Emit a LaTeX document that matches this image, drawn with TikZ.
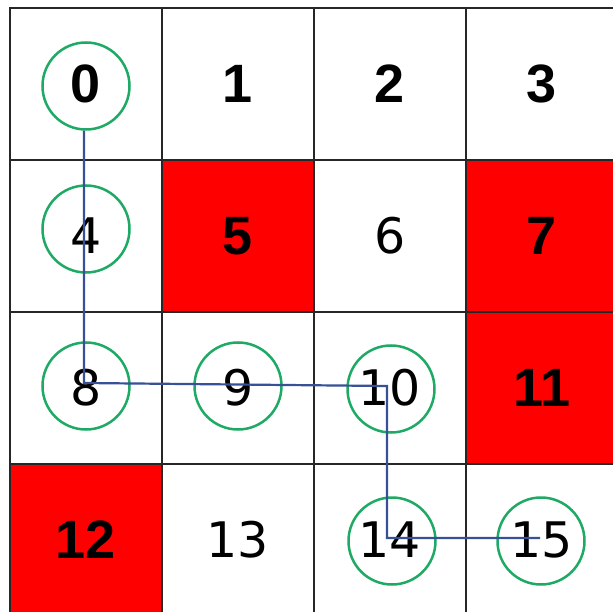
\documentclass[tikz,border=0pt]{standalone}
\usepackage{fontspec}
\setmainfont{DejaVu Sans}
\newfontfamily\boldnum{Liberation Sans}
\definecolor{cellred}{RGB}{255,0,0}
\definecolor{ringgreen}{RGB}{30,170,100}
\definecolor{pathblue}{RGB}{55,80,150}
\tikzset{
  cellbox/.style={draw=black!85, line width=2.6pt, minimum width=152pt, minimum height=152pt, inner sep=0pt, anchor=center, font=\fontsize{49pt}{51pt}\selectfont},
  openbox/.style={cellbox, fill=white},
  wallbox/.style={cellbox, fill=cellred},
  strong/.style={font=\fontsize{54pt}{56pt}\selectfont\boldnum\bfseries},
  ring/.style={circle, draw=ringgreen, line width=2.5pt, minimum size=87pt, inner sep=0pt},
  route/.style={draw=pathblue, line width=2.2pt}
}
\begin{document}
\begin{tikzpicture}[x=1pt,y=-1pt]
\useasboundingbox (0,0) rectangle (613,612);
\fill[white] (0,0) rectangle (613,612);
% row 0
\node[openbox,strong] (c0) at (86,84) {0};
\node[openbox,strong] (c1) at (238,84) {1};
\node[openbox,strong] (c2) at (390,84) {2};
\node[openbox,strong] (c3) at (542,84) {3};
% row 1
\node[openbox] (c4) at (86,236) {4};
\node[wallbox,strong] (c5) at (238,236) {5};
\node[openbox] (c6) at (390,236) {6};
\node[wallbox,strong] (c7) at (542,236) {7};
% row 2
\node[openbox] (c8) at (86,388) {8};
\node[openbox] (c9) at (238,388) {9};
\node[openbox] (c10) at (390,388) {10};
\node[wallbox,strong] (c11) at (542,388) {11};
% row 3
\node[wallbox,strong] (c12) at (86,540) {12};
\node[openbox] (c13) at (238,540) {13};
\node[openbox] (c14) at (390,540) {14};
\node[openbox] (c15) at (542,540) {15};
% visited rings
\node[ring] (v0) at (86,86) {};
\node[ring] (v4) at (86,229) {};
\node[ring] (v8) at (86,386) {};
\node[ring] (v9) at (238,386) {};
\node[ring] (v10) at (391,389) {};
\node[ring] (v14) at (392,541) {};
\node[ring] (v15) at (541,541) {};
% route
\coordinate (p1) at (84,383);
\coordinate (p2) at (387,386);
\coordinate (p3) at (387,538);
\coordinate (p4) at (540,538);
\draw[route] (v0.south -| p1) -- (p1) -- (p2) -- (p3) -- (p4);
\end{tikzpicture}
\end{document}
